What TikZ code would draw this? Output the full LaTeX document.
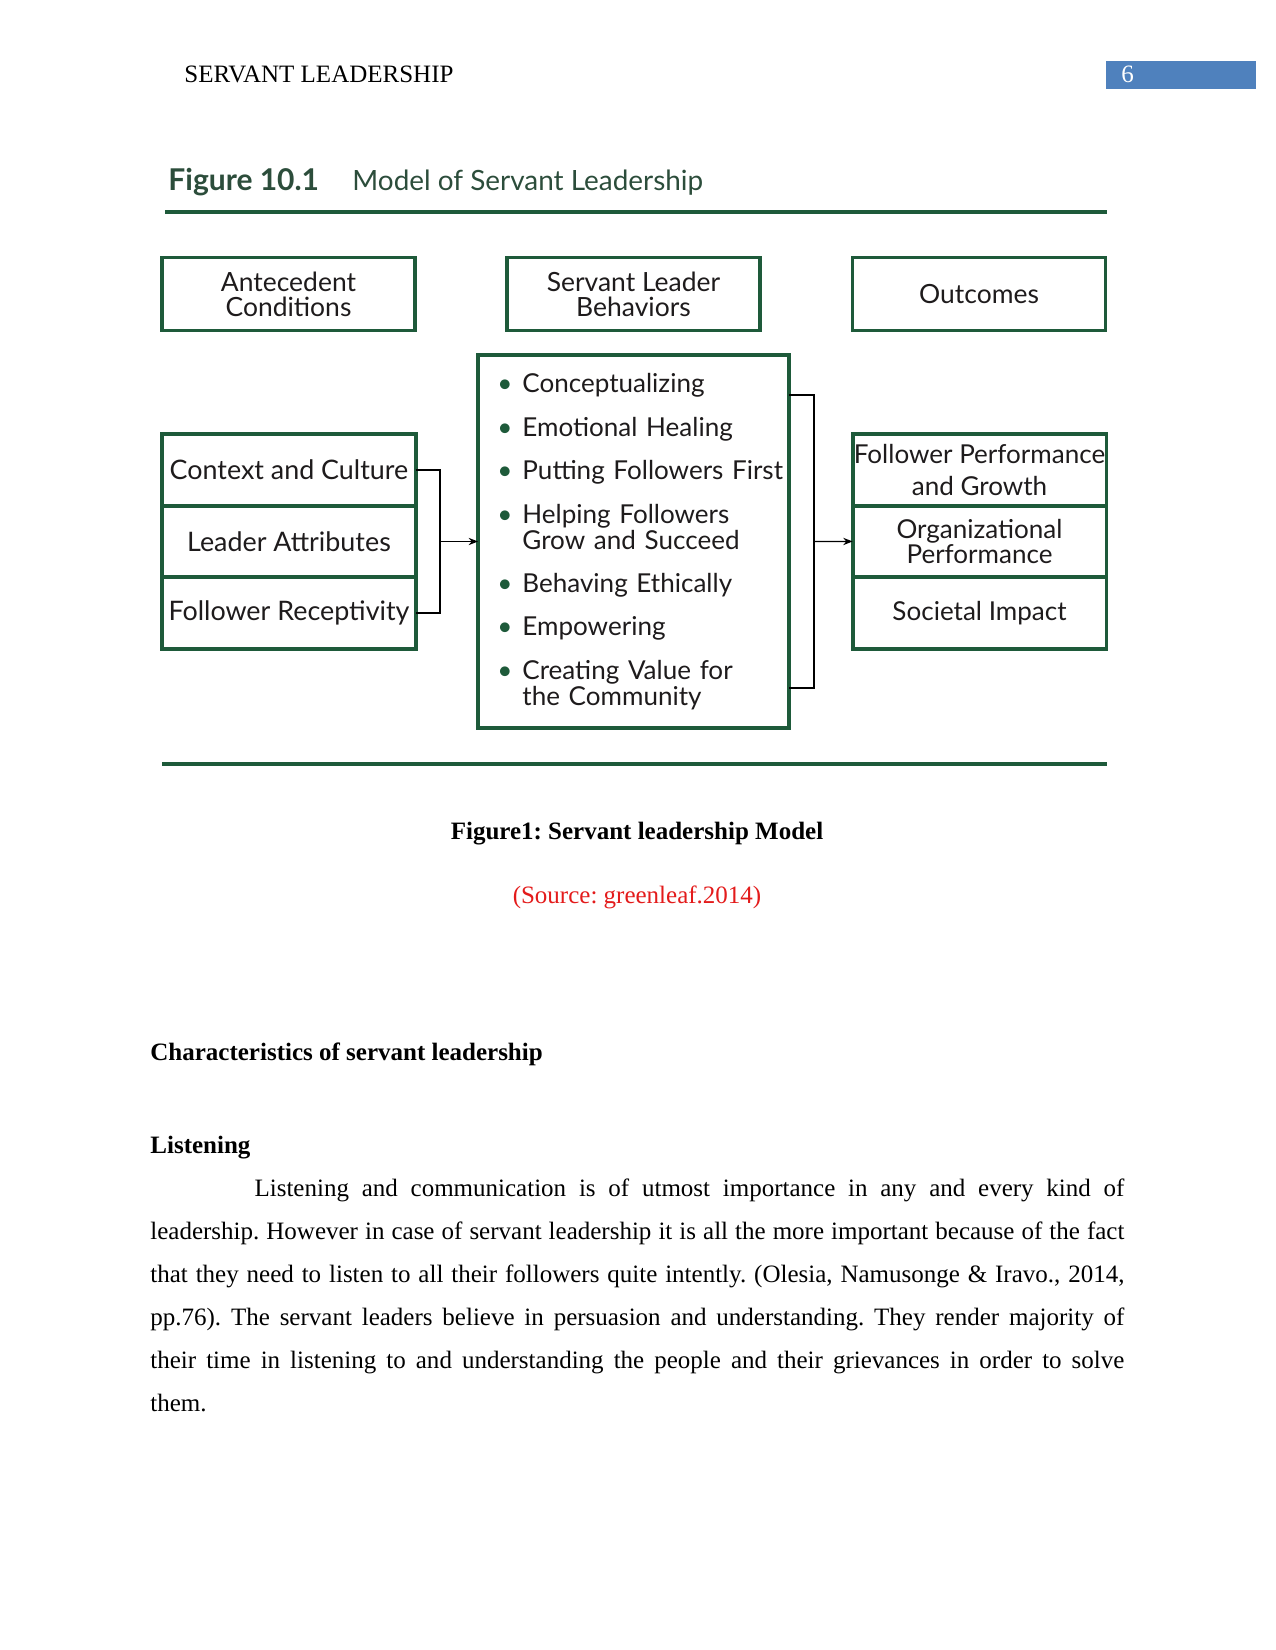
\documentclass[tikz,border=0pt]{standalone}
\usepackage{fontspec}
\setmainfont{Liberation Serif}
\newfontfamily\figfont{Lato}
\usetikzlibrary{positioning, arrows.meta}
\definecolor{FigGreen}{HTML}{1E5A3A}
\definecolor{TitleGreen}{HTML}{2C4D3B}
\definecolor{HeadBlue}{HTML}{4F81BD}
\definecolor{InkGray}{HTML}{1E1B1C}
\definecolor{SrcRed}{HTML}{E31B1B}
\newcommand{\behbullet}{\makebox[12pt][l]{\textcolor{FigGreen}{\textbullet}}}
\frenchspacing

\begin{document}
\begin{tikzpicture}[
  x=0.48pt, y=-0.48pt,
  node distance=0pt,
  hdrbox/.style={rectangle, draw=FigGreen, line width=1.8pt, minimum width=121.5pt,
    minimum height=35pt, inner sep=0pt, outer sep=0pt, align=center, text=InkGray,
    font=\figfont\fontsize{12.7}{12}\selectfont},
  cell/.style={hdrbox, minimum width=121.8pt, minimum height=34.3pt,
    font=\figfont\fontsize{12.5}{12}\selectfont},
  leftcell/.style={cell, font=\figfont\fontsize{12.9}{12}\selectfont},
  link/.style={-{Stealth[length=4.5pt,width=3.5pt]}, line width=0.6pt},
  bracket/.style={line width=0.6pt},
  body/.style={inner sep=0pt, anchor=base west, font=\fontsize{12}{12}\selectfont}
]
  \useasboundingbox (0,0) rectangle (1275,1650);

  % running head
  \node[body] (runhead) at (184,83) {SERVANT LEADERSHIP};
  \node[fill=HeadBlue, anchor=north west, inner sep=0pt, minimum width=72pt,
    minimum height=13.4pt] (pgbox) at (1106,61) {};
  \node[body, text=white] (pgnum) at (1121,83) {6};

  % figure title and rules
  \node[body, text=TitleGreen, font=\figfont\bfseries\fontsize{14.4}{12}\selectfont] (figno) at (168,191) {Figure 10.1};
  \node[body, text=TitleGreen, font=\figfont\fontsize{13.4}{12}\selectfont] (figname) at (352,191) {Model of Servant Leadership};
  \coordinate (ruleAl) at (165,212);
  \coordinate (ruleAr) at (1107,212);
  \coordinate (ruleBl) at (162,764);
  \coordinate (ruleBr) at (1107,764);
  \draw[FigGreen, line width=2pt] (ruleAl) -- (ruleAr);
  \draw[FigGreen, line width=2pt] (ruleBl) -- (ruleBr);

  % column heads
  \node[hdrbox] (ante) at (288.5,294) {Antecedent\\Conditions};
  \node[hdrbox] (slb)  at (633.5,294) {Servant Leader\\Behaviors};
  \node[hdrbox] (outc) at (979,294)   {Outcomes};

  % antecedents
  \node[leftcell] (ctx) at (289,470) {Context and Culture};
  \node[leftcell, below=of ctx] (lattr) {Leader Attributes};
  \node[leftcell, below=of lattr] (frec) {Follower Receptivity};

  % behaviors
  \node[rectangle, draw=FigGreen, line width=1.8pt, minimum width=149.3pt,
    minimum height=179pt, inner sep=0pt, outer sep=0pt] (behbox) at (633.5,541.5) {};
  \node[body, text width=150pt, align=left, text=InkGray,
    font=\figfont\fontsize{12.5}{12.5}\selectfont] (behlist) at (497,393) {%
    \behbullet Conceptualizing\\[8.3pt]
    \behbullet Emotional Healing\\[8.3pt]
    \behbullet Putting Followers First\\[8.3pt]
    \behbullet Helping Followers\\
    \hspace*{12pt}Grow and Succeed\\[8.3pt]
    \behbullet Behaving Ethically\\[8.3pt]
    \behbullet Empowering\\[8.3pt]
    \behbullet Creating Value for\\
    \hspace*{12pt}the Community};

  % outcomes
  \node[cell] (fpg) at (979.5,470) {Follower Performance\\[3pt]and Growth};
  \node[cell, below=of fpg] (orgp) {Organizational\\Performance};
  \node[cell, below=of orgp] (simp) {Societal Impact};

  % connectors
  \coordinate (ljoin) at (440,541.5);
  \coordinate (rtop) at (789,395);
  \coordinate (rbot) at (789,688);
  \coordinate (rjoin) at (814,541.5);
  \draw[bracket] (ctx.east) -- ++(24,0) |- (frec.east);
  \draw[link] (ljoin) -- (behbox.west);
  \draw[bracket] (rtop) -- ++(25,0) |- (rbot);
  \draw[link] (rjoin) -- (orgp.west);

  % caption and text
  \node[body, anchor=base, font=\bfseries\fontsize{12}{12}\selectfont] (cap) at (637,839) {Figure1: Servant leadership Model};
  \node[body, anchor=base, text=SrcRed] (src) at (637,903) {(Source: greenleaf.2014)};
  \node[body, font=\bfseries\fontsize{12}{12}\selectfont] (sechead) at (150,1060) {Characteristics of servant leadership};
  \node[body, font=\bfseries\fontsize{12}{12}\selectfont] (subhead) at (150,1153) {Listening};
  \node[body, text width=467.5pt, align=justify, font=\fontsize{12}{20.7}\selectfont] (para) at (150,1196) {%
    \hspace*{50pt}Listening and communication is of utmost importance in any and every kind of\linebreak
    leadership. However in case of servant leadership it is all the more important because of the fact\linebreak
    that they need to listen to all their followers quite intently. (Olesia, Namusonge \& Iravo., 2014,\linebreak
    pp.76). The servant leaders believe in persuasion and understanding. They render majority of\linebreak
    their time in listening to and understanding the people and their grievances in order to solve\linebreak
    them.};
\end{tikzpicture}
\end{document}
